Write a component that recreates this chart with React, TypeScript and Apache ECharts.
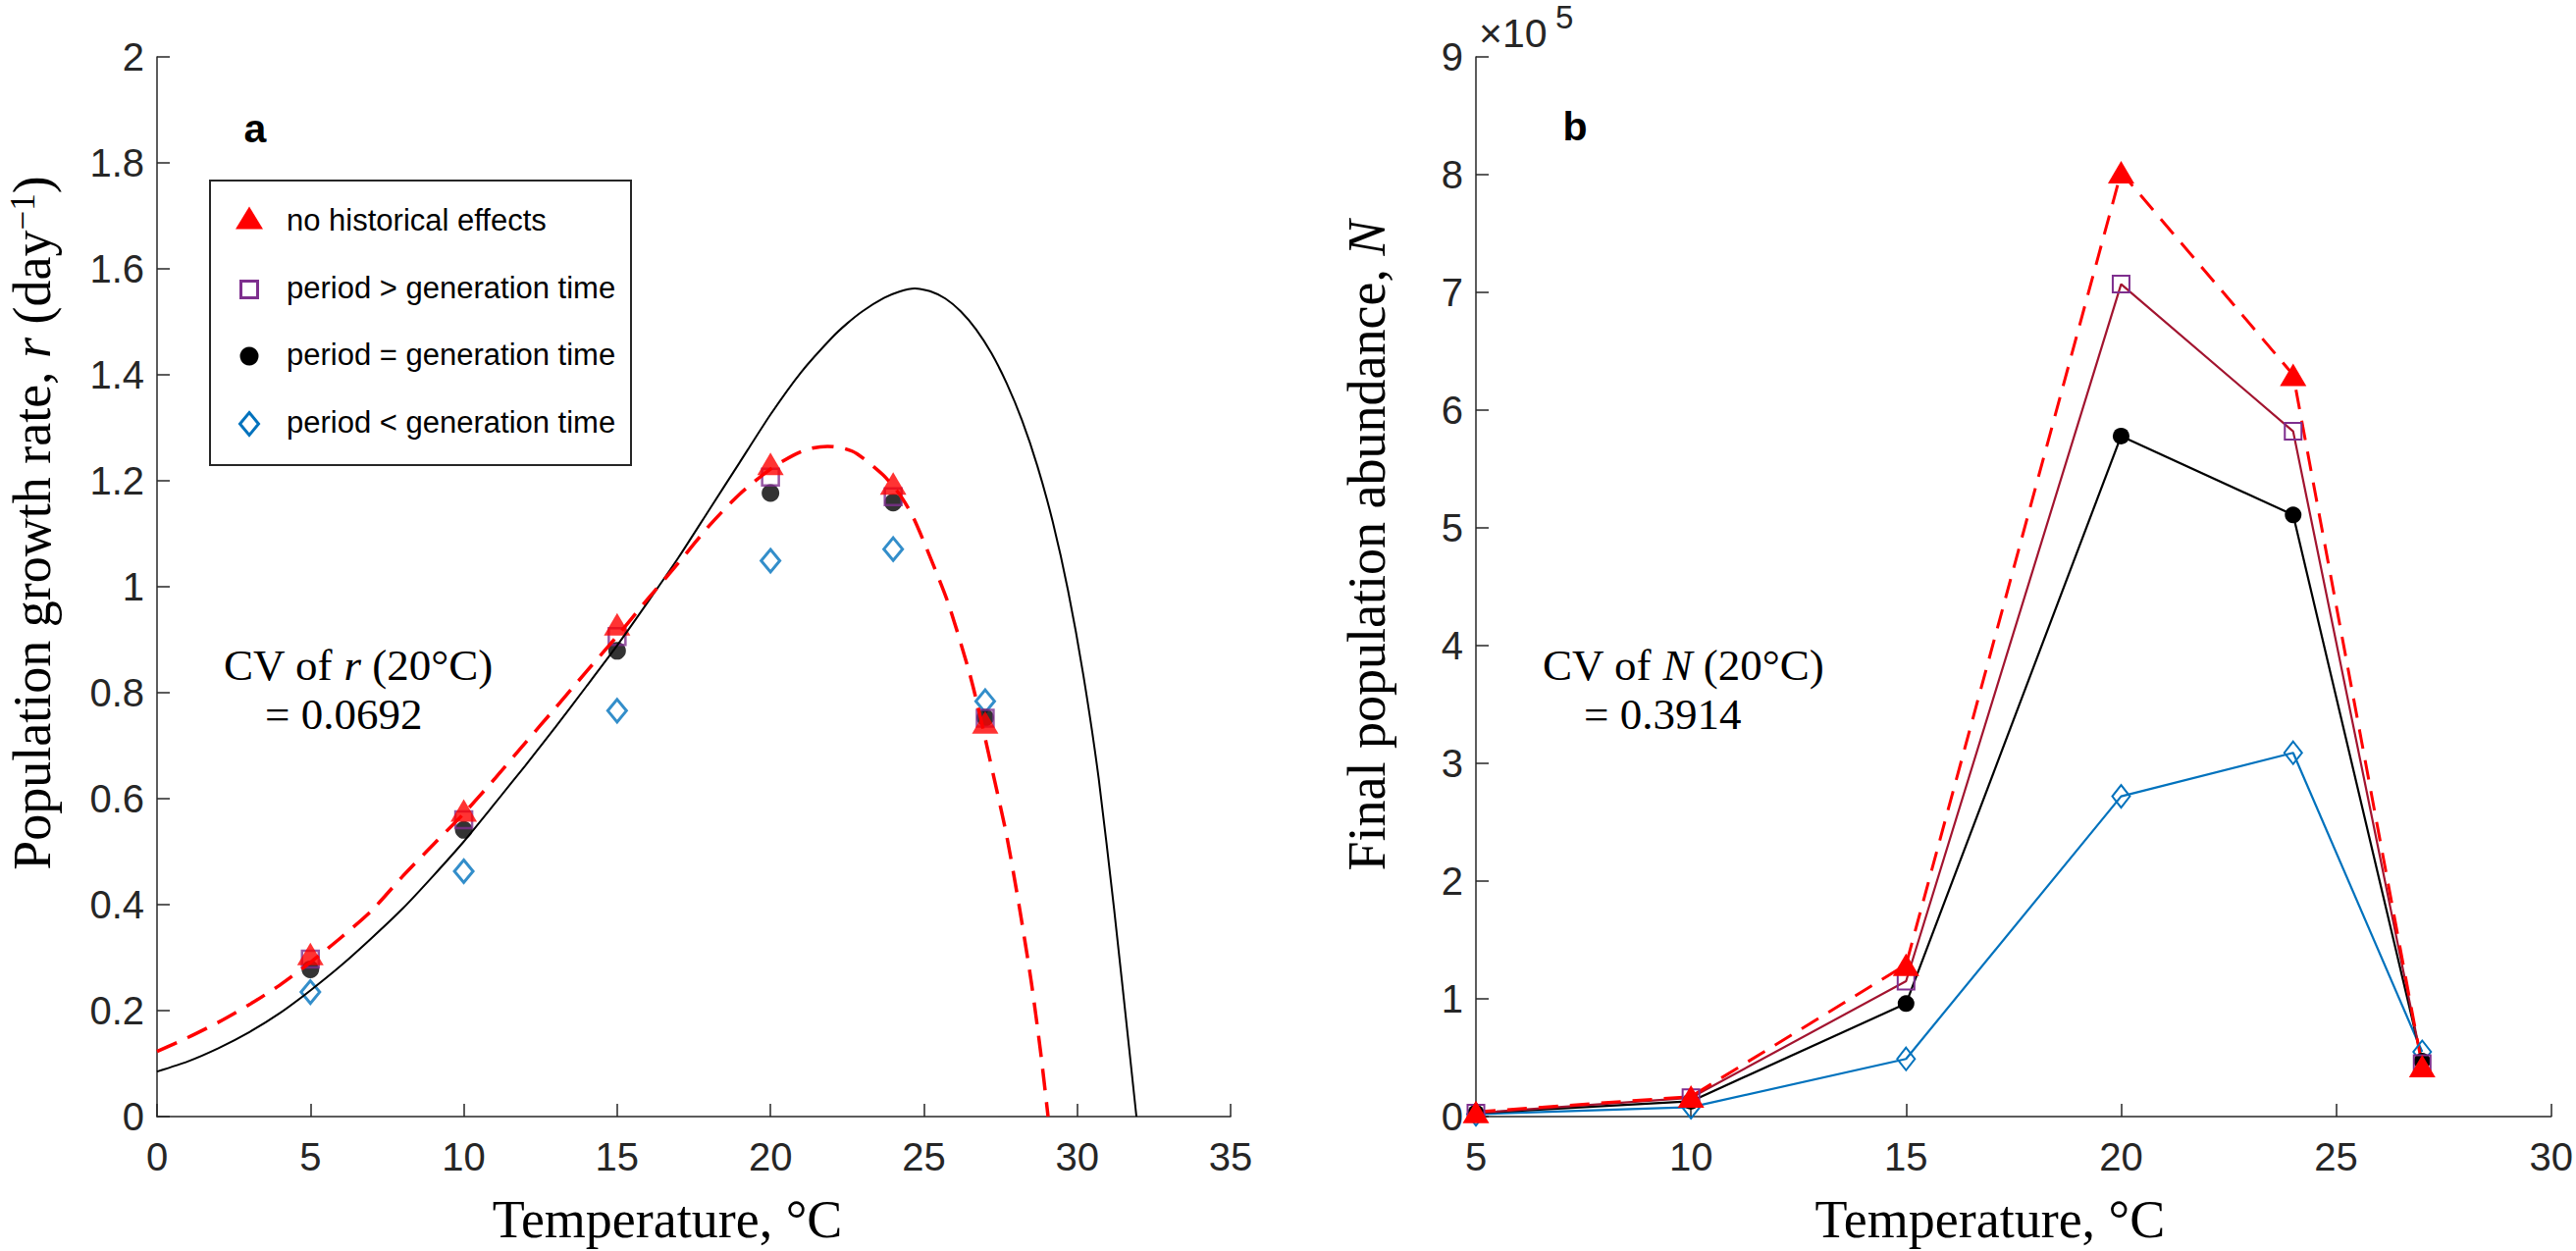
import React, { useEffect, useRef } from 'react';
import * as echarts from 'echarts';

// ---------- Panel a: population growth rate ----------
const tempPoints = [5, 10, 15, 20, 24, 27];
const rNoHistory = [0.307, 0.578, 0.929, 1.232, 1.195, 0.744];
const rPeriodGreater = [0.297, 0.56, 0.906, 1.207, 1.17, 0.752];
const rPeriodEqual = [0.278, 0.541, 0.879, 1.177, 1.159, 0.753];
const rPeriodLess = [0.235, 0.463, 0.766, 1.049, 1.071, 0.784];

// black solid model curve
const blackCurveT = [0, 1, 2, 3, 4, 5, 6, 7, 8, 9, 10, 11, 12, 13, 14, 15, 16, 17, 18, 19, 20, 21, 22, 22.5, 23, 23.7, 24.2, 24.7, 25.2, 25.7, 26.2, 26.7, 27.2, 27.7, 28.2, 28.7, 29.2, 29.7, 30.2, 30.7, 31.2, 31.7, 31.93];
const blackCurveR = [0.085, 0.104, 0.129, 0.159, 0.195, 0.238, 0.285, 0.337, 0.392, 0.454, 0.519, 0.59, 0.662, 0.736, 0.812, 0.889, 0.971, 1.055, 1.145, 1.235, 1.325, 1.405, 1.47, 1.497, 1.52, 1.545, 1.557, 1.563, 1.558, 1.544, 1.52, 1.486, 1.441, 1.384, 1.314, 1.228, 1.123, 0.993, 0.833, 0.638, 0.393, 0.125, 0];

// red dashed model curve
const redCurveT = [0, 1, 2, 3, 4, 5, 6, 7, 8, 9, 10, 11, 12, 13, 14, 15, 16, 17, 18, 19, 20, 20.74, 21.3, 21.86, 22.4, 22.82, 23.67, 24.2, 24.63, 25.17, 25.8, 26.45, 26.77, 27.3, 27.7, 28.1, 28.5, 28.8, 29.05];
const redCurveR = [0.123, 0.149, 0.178, 0.211, 0.248, 0.291, 0.338, 0.389, 0.453, 0.513, 0.572, 0.637, 0.705, 0.772, 0.84, 0.907, 0.977, 1.045, 1.115, 1.175, 1.222, 1.248, 1.261, 1.265, 1.261, 1.251, 1.211, 1.175, 1.134, 1.061, 0.968, 0.845, 0.772, 0.636, 0.53, 0.4, 0.255, 0.125, 0];

// ---------- Panel b: final population abundance ----------
const nNoHistory = [4000, 17000, 129000, 802000, 630000, 43000];
const nPeriodGreater = [3000, 16000, 115000, 707000, 582000, 45000];
const nPeriodEqual = [3000, 13000, 96000, 578000, 511000, 47000];
const nPeriodLess = [2000, 8000, 49000, 272000, 309000, 55000];

const legendNames = [
  'no historical effects',
  'period > generation time',
  'period = generation time',
  'period < generation time',
];

const xTicksA = { min: 0, max: 35, interval: 5 };
const yTicksA = { min: 0, max: 2, interval: 0.2 };
const xTicksB = { min: 5, max: 30, interval: 5 };
const yTicksB = { min: 0, max: 900000, interval: 100000 };

const zip = (a: number[], b: number[]) => a.map((v, i) => [v, b[i]]);

const AX = '#262626';
const RED = '#FF0000';
const PURPLE = '#7E2F8E';
const DARKRED = '#A2142F';
const BLUE = '#0072BD';

const axisBase = (labelMargin: number) => ({
  type: 'value' as const,
  axisLine: { show: true, onZero: false, lineStyle: { color: AX, width: 1.5 } },
  axisTick: { show: true, inside: true, length: 13, lineStyle: { color: AX, width: 1.5 } },
  splitLine: { show: false },
  axisLabel: { fontSize: 40, color: AX, fontFamily: 'Liberation Sans', margin: labelMargin },
});

const serif = 'Liberation Serif';
const TITLE = 54;
const titleStyle = (padding: number[]) => ({
  fontFamily: serif,
  fontSize: TITLE,
  color: '#000',
  lineHeight: TITLE,
  padding,
  rich: {
    i: { fontFamily: serif, fontStyle: 'italic', fontSize: TITLE, color: '#000' },
    sup: { fontFamily: serif, fontSize: 35, lineHeight: 20, verticalAlign: 'top', color: '#000' },
  },
});

function buildOption() {
  const graphics: any[] = [];
  // legend box
  graphics.push({
    type: 'rect', z: 100,
    shape: { x: 214, y: 184, width: 429, height: 290 },
    style: { fill: '#fff', stroke: AX, lineWidth: 2 },
  });
  const rows = [222, 295, 363, 432];
  graphics.push({
    type: 'polygon', z: 101,
    shape: { points: [[254, rows[0] - 11.5], [240, rows[0] + 11.5], [268, rows[0] + 11.5]] },
    style: { fill: RED },
  });
  graphics.push({
    type: 'rect', z: 101,
    shape: { x: 245.5, y: rows[1] - 8.5, width: 17, height: 17 },
    style: { fill: 'none', stroke: PURPLE, lineWidth: 3 },
  });
  graphics.push({
    type: 'circle', z: 101,
    shape: { cx: 254, cy: rows[2], r: 9.5 },
    style: { fill: '#000' },
  });
  graphics.push({
    type: 'polygon', z: 101,
    shape: { points: [[254, rows[3] - 11.5], [263.5, rows[3]], [254, rows[3] + 11.5], [244.5, rows[3]]] },
    style: { fill: 'none', stroke: BLUE, lineWidth: 3 },
  });
  const textRows = [224, 293, 361, 430];
  legendNames.forEach((n, i) => {
    graphics.push({
      type: 'text', z: 101, x: 292, y: textRows[i],
      style: { text: n, fontSize: 31, fontFamily: 'Liberation Sans', fill: '#000', align: 'left', verticalAlign: 'middle' },
    });
  });

  // panel letters
  graphics.push({
    type: 'text', x: 260, y: 131,
    style: { text: 'a', fontSize: 41, fontWeight: 'bold', fontFamily: 'Liberation Sans', fill: '#000', align: 'center', verticalAlign: 'middle' },
  });
  graphics.push({
    type: 'text', x: 1605, y: 129,
    style: { text: 'b', fontSize: 41, fontWeight: 'bold', fontFamily: 'Liberation Sans', fill: '#000', align: 'center', verticalAlign: 'middle' },
  });

  // exponent label
  graphics.push({
    type: 'text', x: 1507, y: 34,
    style: { text: '×10', fontSize: 41, fontFamily: 'Liberation Sans', fill: AX, align: 'left', verticalAlign: 'middle' },
  });
  graphics.push({
    type: 'text', x: 1585, y: 17,
    style: { text: '5', fontSize: 33, fontFamily: 'Liberation Sans', fill: AX, align: 'left', verticalAlign: 'middle' },
  });

  // CV annotations
  const CV = 45;
  const cvRich = { i: { fontFamily: serif, fontStyle: 'italic', fontSize: CV, fill: '#000' } };
  graphics.push({
    type: 'text', x: 228, y: 678,
    style: { text: 'CV of {i|r} (20°C)', fontSize: CV, fontFamily: serif, fill: '#000', align: 'left', verticalAlign: 'middle', rich: cvRich },
  });
  graphics.push({
    type: 'text', x: 270, y: 728,
    style: { text: '= 0.0692', fontSize: CV, fontFamily: serif, fill: '#000', align: 'left', verticalAlign: 'middle' },
  });
  graphics.push({
    type: 'text', x: 1572, y: 678,
    style: { text: 'CV of {i|N} (20°C)', fontSize: CV, fontFamily: serif, fill: '#000', align: 'left', verticalAlign: 'middle', rich: cvRich },
  });
  graphics.push({
    type: 'text', x: 1614, y: 728,
    style: { text: '= 0.3914', fontSize: CV, fontFamily: serif, fill: '#000', align: 'left', verticalAlign: 'middle' },
  });

  return {
    animation: false,
    backgroundColor: '#fff',
    grid: [
      { left: 160, top: 58, width: 1094, height: 1083 },
      { left: 1504, top: 58, width: 1096, height: 1083 },
    ],
    xAxis: [
      {
        ...axisBase(21), gridIndex: 0, ...xTicksA,
        name: 'Temperature, °C', nameLocation: 'middle', nameGap: 78,
        nameTextStyle: titleStyle([0, 54, 0, 0]),
      },
      {
        ...axisBase(21), gridIndex: 1, ...xTicksB,
        name: 'Temperature, °C', nameLocation: 'middle', nameGap: 78,
        nameTextStyle: titleStyle([0, 48, 0, 0]),
      },
    ],
    yAxis: [
      {
        ...axisBase(13), gridIndex: 0, ...yTicksA,
        name: 'Population growth rate, {i|r} (day{sup|−1})', nameLocation: 'middle', nameGap: 100,
        nameTextStyle: titleStyle([0, 0, 0, 130]),
      },
      {
        ...axisBase(13), gridIndex: 1, ...yTicksB,
        axisLabel: { fontSize: 40, color: AX, fontFamily: 'Liberation Sans', margin: 13, formatter: (v: number) => String(Math.round(v / 100000)) },
        name: 'Final population abundance, {i|N}', nameLocation: 'middle', nameGap: 84,
        nameTextStyle: titleStyle([0, 0, 0, 84]),
      },
    ],
    graphic: graphics,
    series: [
      {
        name: 'model (solid)', type: 'line', xAxisIndex: 0, yAxisIndex: 0,
        data: zip(blackCurveT, blackCurveR), showSymbol: false, smooth: 0.2,
        lineStyle: { color: '#000', width: 2 }, silent: true,
      },
      {
        name: 'model (dashed)', type: 'line', xAxisIndex: 0, yAxisIndex: 0,
        data: zip(redCurveT, redCurveR), showSymbol: false, smooth: 0.25,
        lineStyle: { color: RED, width: 3.5, type: [22, 12] }, silent: true,
      },
      {
        name: legendNames[3], type: 'scatter', xAxisIndex: 0, yAxisIndex: 0,
        data: zip(tempPoints, rPeriodLess), symbol: 'diamond', symbolSize: [19, 23],
        itemStyle: { color: 'rgba(0,0,0,0)', borderColor: BLUE, borderWidth: 3 },
      },
      {
        name: legendNames[2], type: 'scatter', xAxisIndex: 0, yAxisIndex: 0,
        data: zip(tempPoints, rPeriodEqual), symbol: 'circle', symbolSize: 18,
        itemStyle: { color: '#000' },
      },
      {
        name: legendNames[1], type: 'scatter', xAxisIndex: 0, yAxisIndex: 0,
        data: zip(tempPoints, rPeriodGreater), symbol: 'rect', symbolSize: 17,
        itemStyle: { color: 'rgba(0,0,0,0)', borderColor: PURPLE, borderWidth: 2.5 },
      },
      {
        name: legendNames[0], type: 'scatter', xAxisIndex: 0, yAxisIndex: 0,
        data: zip(tempPoints, rNoHistory), symbol: 'triangle', symbolSize: [27, 23],
        itemStyle: { color: RED },
      },
      {
        name: 'b: ' + legendNames[3], type: 'line', xAxisIndex: 1, yAxisIndex: 1,
        data: zip(tempPoints, nPeriodLess), symbol: 'diamond', symbolSize: [18, 23], showAllSymbol: true,
        lineStyle: { color: BLUE, width: 2.2 },
        itemStyle: { color: 'rgba(0,0,0,0)', borderColor: BLUE, borderWidth: 2 },
      },
      {
        name: 'b: ' + legendNames[2], type: 'line', xAxisIndex: 1, yAxisIndex: 1,
        data: zip(tempPoints, nPeriodEqual), symbol: 'circle', symbolSize: 17, showAllSymbol: true,
        lineStyle: { color: '#000', width: 2.2 },
        itemStyle: { color: '#000' },
      },
      {
        name: 'b: ' + legendNames[1], type: 'line', xAxisIndex: 1, yAxisIndex: 1,
        data: zip(tempPoints, nPeriodGreater), symbol: 'rect', symbolSize: 17, showAllSymbol: true,
        lineStyle: { color: DARKRED, width: 2.2 },
        itemStyle: { color: 'rgba(0,0,0,0)', borderColor: PURPLE, borderWidth: 2 },
      },
      {
        name: 'b: ' + legendNames[0], type: 'line', xAxisIndex: 1, yAxisIndex: 1,
        data: zip(tempPoints, nNoHistory), symbol: 'triangle', symbolSize: [27, 23], showAllSymbol: true,
        lineStyle: { color: RED, width: 3, type: [20, 12] },
        itemStyle: { color: RED },
      },
    ],
  };
}

export default function App() {
  const ref = useRef<HTMLDivElement>(null);
  useEffect(() => {
    document.body.style.margin = '0';
    const chart = echarts.init(ref.current as HTMLDivElement, null, { renderer: 'svg' });
    chart.setOption(buildOption() as any);
    return () => chart.dispose();
  }, []);
  return <div ref={ref} style={{ position: 'fixed', left: 0, top: 0, width: 2625, height: 1275, background: '#fff' }} />;
}
